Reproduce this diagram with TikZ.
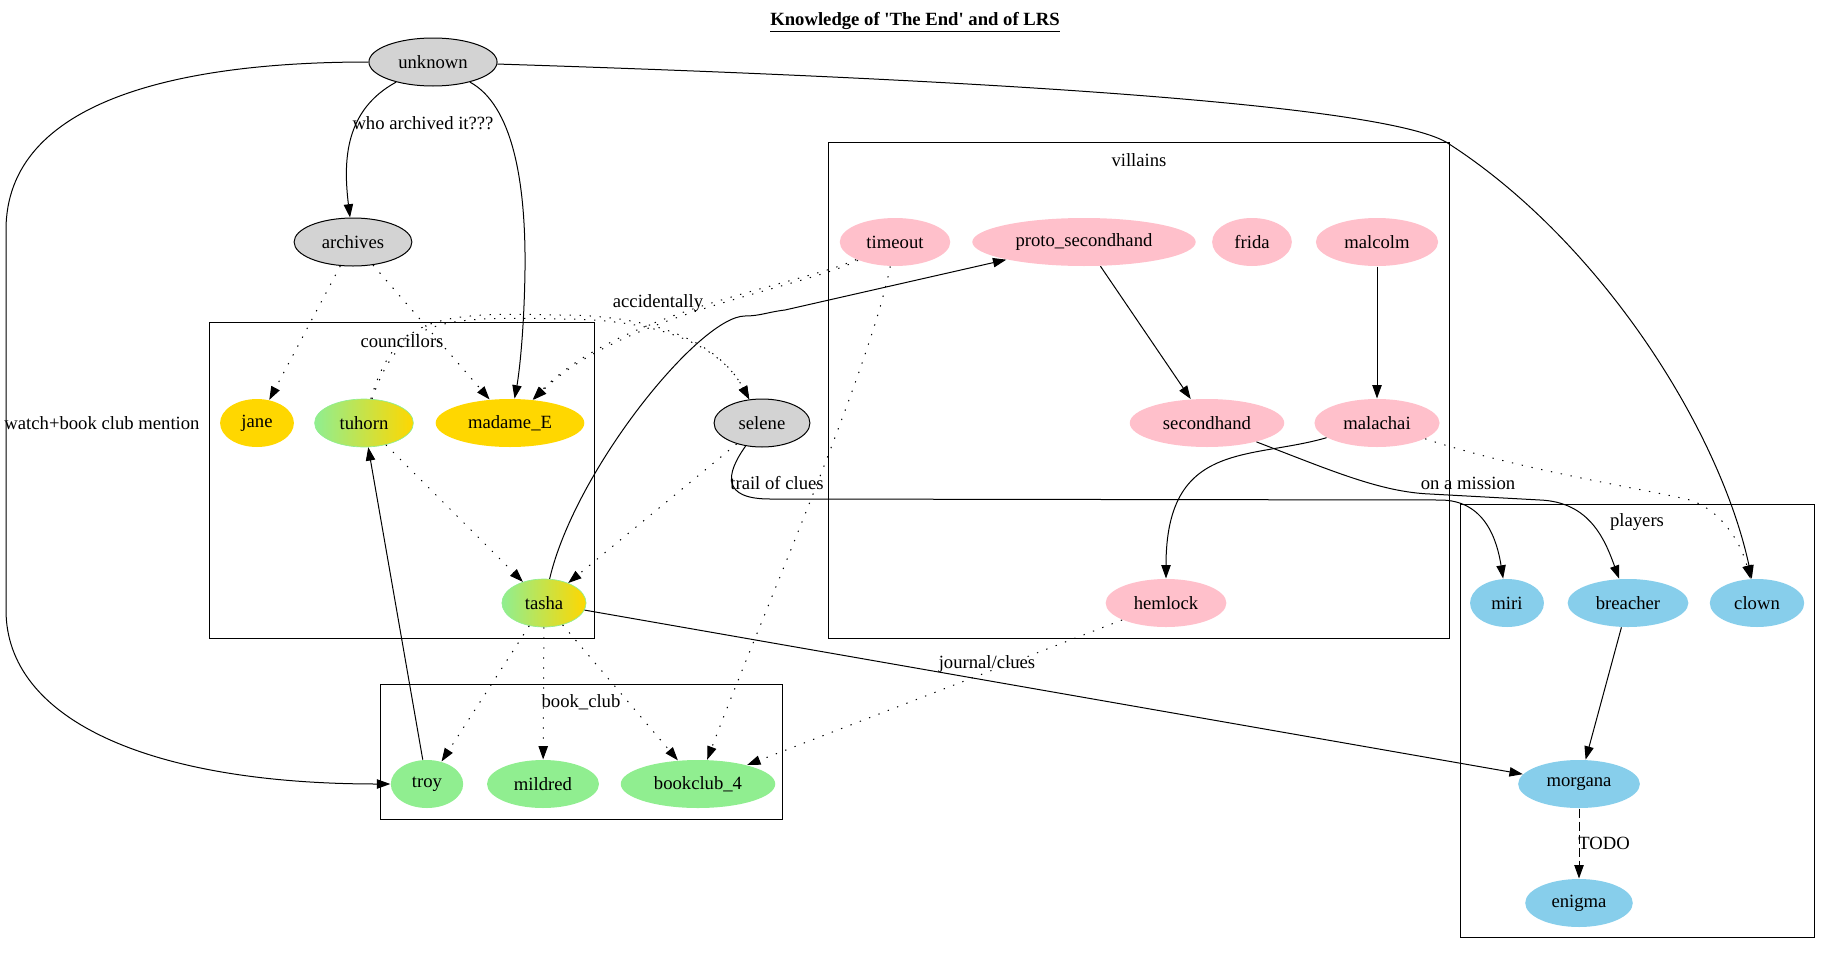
\documentclass[tikz,border=0pt]{standalone}
\usepackage{fontspec}
\newfontfamily\gvfont{Liberation Serif}
\usetikzlibrary{arrows.meta,shapes.geometric}
\definecolor{lgray}{HTML}{D3D3D3}
\definecolor{gvgold}{HTML}{FFD700}
\definecolor{gvpink}{HTML}{FFC0CB}
\definecolor{gvsky}{HTML}{87CEEB}
\definecolor{gvgreen}{HTML}{90EE90}
\newcommand{\gvtext}{\gvfont\fontsize{14pt}{16pt}\selectfont}
\begin{document}
\begin{tikzpicture}[x=0.75pt, y=-0.75pt, line width=0.75pt, font=\gvtext,
person/.style={ellipse, minimum width=54pt, minimum height=36pt, inner xsep=7.92pt, inner ysep=3.96pt},
unk/.style={person, draw, fill=lgray},
coun/.style={person, fill=gvgold},
vill/.style={person, fill=gvpink},
play/.style={person, fill=gvsky},
club/.style={person, fill=gvgreen},
mix/.style={person, draw=gvgreen, line width=0.5pt, left color=gvgreen, right color=gvgold},
grp/.style={draw, line width=0.75pt},
elab/.style={inner sep=0pt},
arr/.style={-{Triangle[length=10pt,width=7pt]}},
dots/.style={arr, dash pattern=on 1pt off 6.5pt},
todoline/.style={arr, dash pattern=on 6.75pt off 3pt}]
\useasboundingbox (0,0) rectangle (1831,953);
\node[elab] (title) at (915,22) {\underline{\textbf{Knowledge of 'The End' and of LRS}}};
% clusters
\draw[grp] (209.4,322.7) rectangle (594.7,638.7);
\node[elab] (lcoun) at (402,341) {councillors};
\draw[grp] (380,684.7) rectangle (782.4,819);
\node[elab] (lclub) at (581,702) {book\_club};
\draw[grp] (828.7,142.7) rectangle (1449,638.7);
\node[elab] (lvill) at (1139,160) {villains};
\draw[grp] (1460,504) rectangle (1814.5,937);
\node[elab] (lplay) at (1637,522) {players};
% people
\node[unk] (unknown) at (433,62) {unknown};
\node[unk] (archives) at (353,242) {archives};
\node[coun] (jane) at (257,423) {jane};
\node[mix] (tuhorn) at (364,423) {tuhorn};
\node[coun] (madame) at (510,423) {madame\_E};
\node[unk] (selene) at (762,423) {selene};
\node[mix] (tasha) at (544,603) {tasha};
\node[vill] (timeout) at (895,242) {timeout};
\node[vill] (proto) at (1084,242) {proto\_secondhand};
\node[vill] (frida) at (1252,242) {frida};
\node[vill] (malcolm) at (1377,242) {malcolm};
\node[vill] (secondhand) at (1207,423) {secondhand};
\node[vill] (malachai) at (1377,423) {malachai};
\node[vill] (hemlock) at (1166,603) {hemlock};
\node[play] (miri) at (1507,603) {miri};
\node[play] (breacher) at (1628,603) {breacher};
\node[play] (clown) at (1757,603) {clown};
\node[play] (morgana) at (1579,784) {morgana};
\node[play] (enigma) at (1579,903) {enigma};
\node[club] (troy) at (427,784) {troy};
\node[club] (mildred) at (543,784) {mildred};
\node[club] (bookclub) at (698,784) {bookclub\_4};
% knowledge
\draw[arr] (unknown) .. controls (345,110) and (343,160) .. (archives);
\node[elab] (lwho) at (423,123) {who archived it???};
\draw[arr] (unknown) .. controls (512,105) and (526,180) .. (525,270) .. controls (524,340) and (518,380) .. (madame);
\draw[arr] (unknown) .. controls (180,62) and (6,100) .. (6,230) -- (6,610) .. controls (6,720) and (150,784) .. (troy);
\node[elab] (lwatch) at (102,423) {watch+book club mention};
\draw[arr] (unknown) .. controls (1000,80) and (1380,105) .. (1446,142) .. controls (1600,240) and (1720,430) .. (clown);
\draw[dots] (archives) -- (jane);
\draw[dots] (archives) -- (madame);
\foreach \d in {0,4}{
\draw[dots] (timeout) .. controls (800,285+\d) and (620,310+\d) .. (madame);
\draw[dots] (tuhorn) .. controls (395+\d,315+\d) and (440,312+\d) .. (560,315+\d) .. controls (660,315+\d) and (720,345) .. (selene);
}
\node[elab] (lacc) at (658,303) {accidentally};
\draw[dots] (tuhorn) -- (tasha);
\draw[dots] (selene) -- (tasha);
\draw[arr] (selene) .. controls (725,475) and (722,499) .. (770,499) -- (1440,500) .. controls (1485,500) and (1497,540) .. (miri);
\node[elab] (ltrail) at (777,483) {trail of clues};
\draw[arr] (tasha) .. controls (575,470) and (700,316) .. (745,316) .. controls (760,316) and (768,312) .. (785,310) -- (proto);
\draw[dots] (tasha) -- (troy);
\draw[dots] (tasha) -- (mildred);
\draw[dots] (tasha) -- (bookclub);
\draw[arr] (tasha) -- (morgana);
\node[elab] (ljournal) at (987,664) {journal/clues};
\draw[arr] (troy) -- (tuhorn);
\draw[dots] (timeout) .. controls (870,370) and (760,620) .. (bookclub);
\draw[dots] (hemlock) -- (bookclub);
\draw[arr] (proto) -- (secondhand);
\draw[arr] (malcolm) -- (malachai);
\draw[arr] (malachai) .. controls (1250,460) and (1166,440) .. (hemlock);
\draw[arr] (secondhand) .. controls (1330,470) and (1380,492) .. (1430,494) -- (1540,500) .. controls (1590,502) and (1605,540) .. (breacher);
\node[elab] (lmission) at (1468,483) {on a mission};
\draw[dots] (malachai) .. controls (1520,470) and (1650,490) .. (1690,500) .. controls (1720,510) and (1740,540) .. (clown);
\draw[arr] (breacher) -- (morgana);
\draw[todoline] (morgana) -- (enigma);
\node[elab] (ltodo) at (1604,843) {TODO};
\end{tikzpicture}
\end{document}
